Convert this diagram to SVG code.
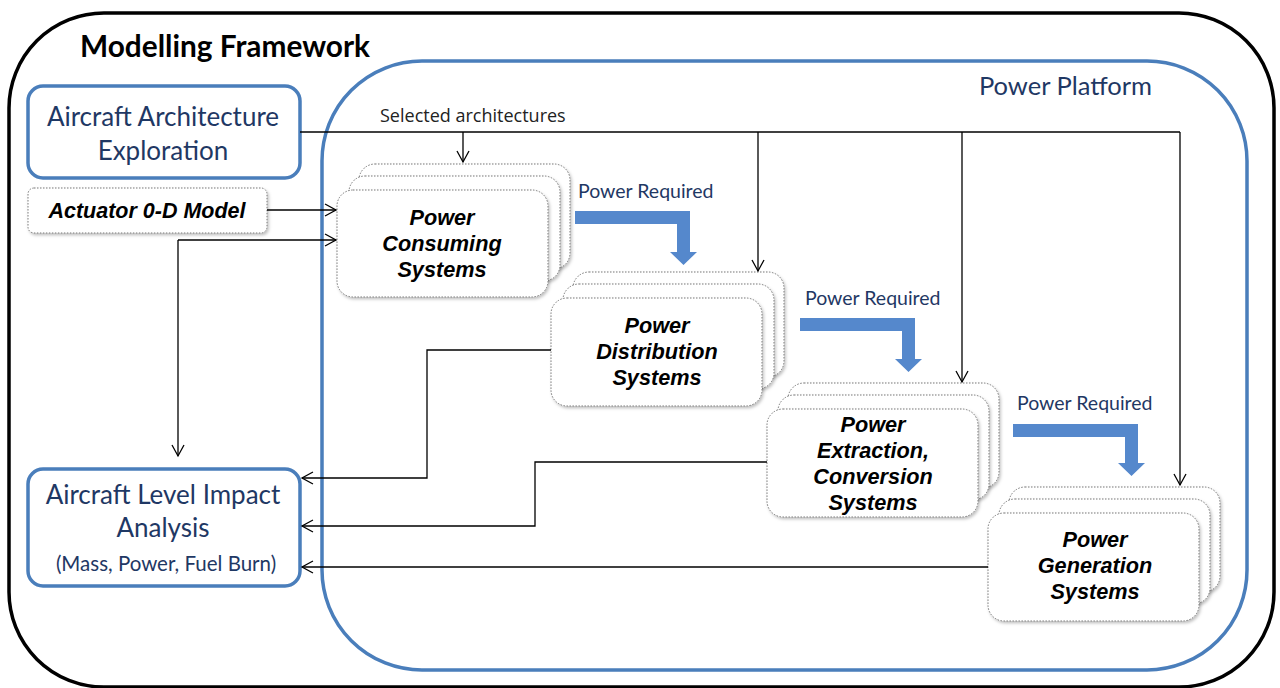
<svg xmlns="http://www.w3.org/2000/svg" width="1280" height="688" viewBox="0 0 1280 688">
<style>
.cal{font-family:Lato,"Open Sans","Liberation Sans",sans-serif;fill:#1f3864}
.bi{font-family:"Liberation Sans",Arial,sans-serif;font-weight:bold;font-style:italic;fill:#000;font-size:21.7px;text-anchor:middle}
.ln{fill:none;stroke:#000;stroke-width:1.3}
.dot{fill:#fff;stroke:#777;stroke-width:1;stroke-dasharray:1.5 1.5;filter:url(#sh)}
.bbox{fill:#fff;stroke:#4a7ebb;stroke-width:3.5}
.big{fill:#5588cc}
</style>
<defs>
<marker id="ah" markerWidth="14" markerHeight="14" refX="12" refY="7" orient="auto" markerUnits="userSpaceOnUse">
<path d="M1,1 L12,7 L1,13" fill="none" stroke="#000" stroke-width="1.3"/>
</marker>
<filter id="sh" x="-10%" y="-10%" width="130%" height="130%">
<feDropShadow dx="1.5" dy="2" stdDeviation="1.5" flood-color="#000" flood-opacity="0.25"/>
</filter>
</defs>
<rect x="9" y="13" width="1265" height="674" rx="95" fill="#fff" stroke="#000" stroke-width="3.5"/>
<g id="power-platform">
<rect x="322" y="61" width="925" height="609" rx="100" fill="#fff" stroke="#4a7ebb" stroke-width="3.5"/>
<text class="cal" x="1152" y="95" font-size="25.5" text-anchor="end">Power Platform</text>
</g>
<text class="cal" x="80" y="57" font-size="29.8" font-weight="bold" style="fill:#000">Modelling Framework</text>

<g id="arch-exploration">
<rect class="bbox" x="28" y="86" width="272" height="92" rx="15"/>
<text class="cal" x="163" y="126" font-size="26" text-anchor="middle">Aircraft Architecture</text>
<text class="cal" x="163" y="160" font-size="26" text-anchor="middle">Exploration</text>
</g>
<g id="actuator">
<rect class="dot" x="28" y="188" width="239" height="45" rx="6"/>
<text class="bi" x="147" y="218" style="font-size:21.5px">Actuator 0-D Model</text>
</g>
<g id="impact-analysis">
<rect class="bbox" x="28" y="469" width="272" height="117" rx="15"/>
<text class="cal" x="163" y="504" font-size="26" text-anchor="middle">Aircraft Level Impact</text>
<text class="cal" x="163" y="537" font-size="26" text-anchor="middle">Analysis</text>
<text class="cal" x="166" y="571" font-size="20.5" text-anchor="middle">(Mass, Power, Fuel Burn)</text>
</g>

<g id="power-consuming">
<rect class="dot" x="359" y="164" width="211" height="105" rx="16"/>
<rect class="dot" x="349" y="176" width="211" height="105" rx="16"/>
<rect class="dot" x="337" y="190" width="211" height="107" rx="16"/>
<text class="bi" x="442" y="225">Power</text>
<text class="bi" x="442" y="251">Consuming</text>
<text class="bi" x="442" y="277">Systems</text>
</g>
<g id="power-distribution">
<rect class="dot" x="573" y="272" width="211" height="105" rx="16"/>
<rect class="dot" x="563" y="284" width="211" height="105" rx="16"/>
<rect class="dot" x="551" y="298" width="211" height="108" rx="16"/>
<text class="bi" x="657" y="333">Power</text>
<text class="bi" x="657" y="359">Distribution</text>
<text class="bi" x="657" y="385">Systems</text>
</g>
<g id="power-extraction">
<rect class="dot" x="788" y="383" width="211" height="105" rx="16"/>
<rect class="dot" x="778" y="395" width="211" height="105" rx="16"/>
<rect class="dot" x="767" y="409" width="211" height="108" rx="16"/>
<text class="bi" x="873" y="432">Power</text>
<text class="bi" x="873" y="458">Extraction,</text>
<text class="bi" x="873" y="484">Conversion</text>
<text class="bi" x="873" y="510">Systems</text>
</g>
<g id="power-generation">
<rect class="dot" x="1009" y="487" width="211" height="105" rx="16"/>
<rect class="dot" x="999" y="499" width="211" height="105" rx="16"/>
<rect class="dot" x="988" y="513" width="211" height="108" rx="16"/>
<text class="bi" x="1095" y="547">Power</text>
<text class="bi" x="1095" y="573">Generation</text>
<text class="bi" x="1095" y="599">Systems</text>
</g>

<g id="connectors">
<text x="380" y="122" font-family="'Open Sans','Liberation Sans',sans-serif" font-size="18" fill="#222">Selected architectures</text>
<path class="ln" d="M300,132 H1180"/>
<path class="ln" d="M463,132 V162" marker-end="url(#ah)"/>
<path class="ln" d="M758,132 V271" marker-end="url(#ah)"/>
<path class="ln" d="M962,132 V382" marker-end="url(#ah)"/>
<path class="ln" d="M1180,132 V485" marker-end="url(#ah)"/>
<path class="ln" d="M267,210 H336" marker-end="url(#ah)"/>
<path class="ln" d="M178,240 H336" marker-end="url(#ah)"/>
<path class="ln" d="M178,240 V456" marker-end="url(#ah)"/>
<path class="ln" d="M551,350 H427 V478 H302" marker-end="url(#ah)"/>
<path class="ln" d="M767,462 H535 V526 H302" marker-end="url(#ah)"/>
<path class="ln" d="M988,567 H302" marker-end="url(#ah)"/>
<text class="cal" x="578" y="198" font-size="19.5">Power Required</text>
<text class="cal" x="805" y="305" font-size="19.5">Power Required</text>
<text class="cal" x="1017" y="410" font-size="19.5">Power Required</text>
<path class="big" d="M575,211 H690 V252 H697 L683.5,265 L670,252 H677 V224 H575 Z"/>
<path class="big" d="M800,318 H915 V359 H922 L908.5,372 L895,359 H902 V331 H800 Z"/>
<path class="big" d="M1013,424 H1138 V463 H1145 L1131.5,476 L1118,463 H1125 V437 H1013 Z"/>
</g>
</svg>
